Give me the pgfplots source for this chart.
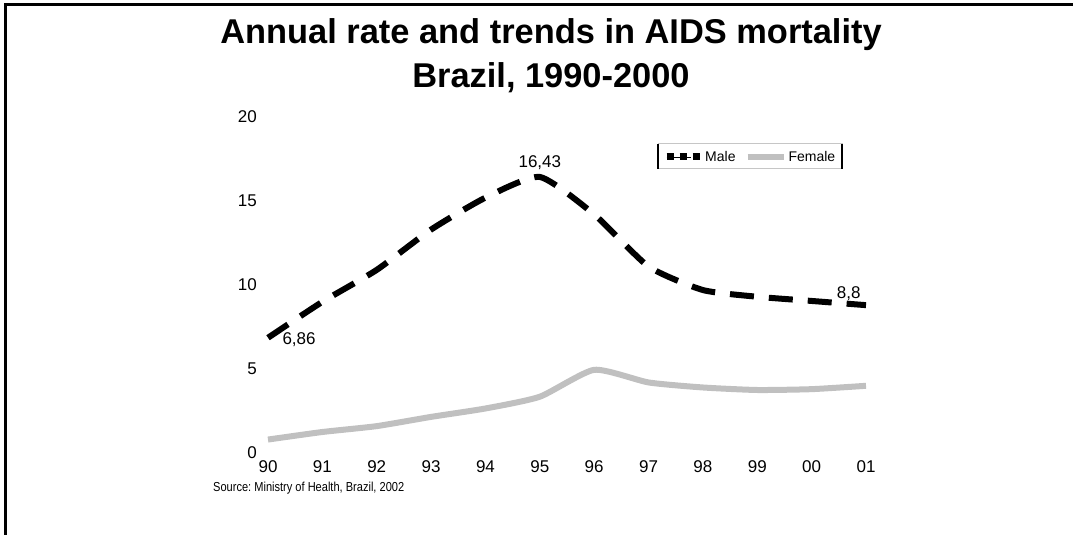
\documentclass[border=0pt]{standalone}
\usepackage{fontspec}
\setmainfont{Liberation Sans}
\newfontfamily\narrowfont[FakeStretch=0.85]{Liberation Sans}
\usepackage{pgfplots}
\pgfplotsset{compat=1.18}
\definecolor{femgray}{HTML}{C0C0C0}
\frenchspacing
\begin{document}
\begin{tikzpicture}[x=1pt,y=1pt]
\path[use as bounding box] (0,0) rectangle (1073,535);
\draw[line width=3pt] (5,0) -- (5,530) -- (1073,530);
\node[font=\fontsize{34.4}{44}\selectfont\bfseries, align=center] at (551,479) {Annual rate and trends in AIDS mortality\\Brazil, 1990-2000};
\begin{axis}[
  at={(268pt,82pt)}, anchor=south west,
  width=598pt, height=336pt, scale only axis,
  xmin=0, xmax=11, ymin=0, ymax=20, clip=false,
  axis line style={draw=none}, major tick length=0pt,
  xtick={0,1,...,11},
  xticklabels={90,91,92,93,94,95,96,97,98,99,00,01},
  ytick={0,5,10,15,20},
  ticklabel style={font=\fontsize{17}{20}\selectfont},
  /pgf/number format/assume math mode=true,
  yticklabel style={inner sep=0pt, xshift=-11pt},
  xticklabel style={inner sep=0pt, yshift=-7pt},
  legend columns=2,
  legend style={draw=none, fill=none, at={(axis cs:8.87,17.62)}, anchor=center,
    font=\fontsize{14}{16}\selectfont, inner sep=1pt,
    /tikz/every even column/.style={column sep=7pt}},
]
\addplot[black, line width=6pt, dash pattern=on 24pt off 15pt, smooth, tension=0.35,
  legend image code/.code={
    \draw[black, line width=0.5pt] (0pt,0pt) -- (33pt,0pt);
    \draw[black, line width=7pt, dash pattern=on 7pt off 6pt] (0pt,0pt) -- (33pt,0pt);}]
  coordinates {(0,6.86) (1,9.0) (2,10.9) (3,13.3) (4,15.2) (5,16.43) (6,14.2) (7,11.1) (8,9.7) (9,9.3) (10,9.05) (11,8.8)};
\addlegendentry{Male}
\addplot[femgray, line width=6pt, smooth, tension=0.35,
  legend image code/.code={
    \draw[femgray, line width=6pt] (0pt,0pt) -- (36pt,0pt);}]
  coordinates {(0,0.8) (1,1.25) (2,1.6) (3,2.15) (4,2.65) (5,3.35) (6,4.95) (7,4.2) (8,3.9) (9,3.75) (10,3.8) (11,4.0)};
\addlegendentry{Female}
\node[font=\fontsize{17}{20}\selectfont, anchor=south, yshift=4pt] at (axis cs:5,16.43) {16,43};
\node[font=\fontsize{17}{20}\selectfont, anchor=west, xshift=11pt, yshift=-2pt] at (axis cs:0,6.86) {6,86};
\node[font=\fontsize{17}{20}\selectfont, anchor=south east, xshift=-2pt, yshift=1pt] at (axis cs:11,8.8) {8,8};
\end{axis}
\draw[gray!45, line width=1pt] (658,366) rectangle (842,391);
\draw[line width=2.5pt] (658,366) -- (658,391);
\draw[line width=2.5pt] (842,366) -- (842,391);
\node[font=\narrowfont\fontsize{13}{15}\selectfont, anchor=west, inner sep=0pt] at (213,47) {Source: Ministry of Health, Brazil, 2002};
\end{tikzpicture}
\end{document}
